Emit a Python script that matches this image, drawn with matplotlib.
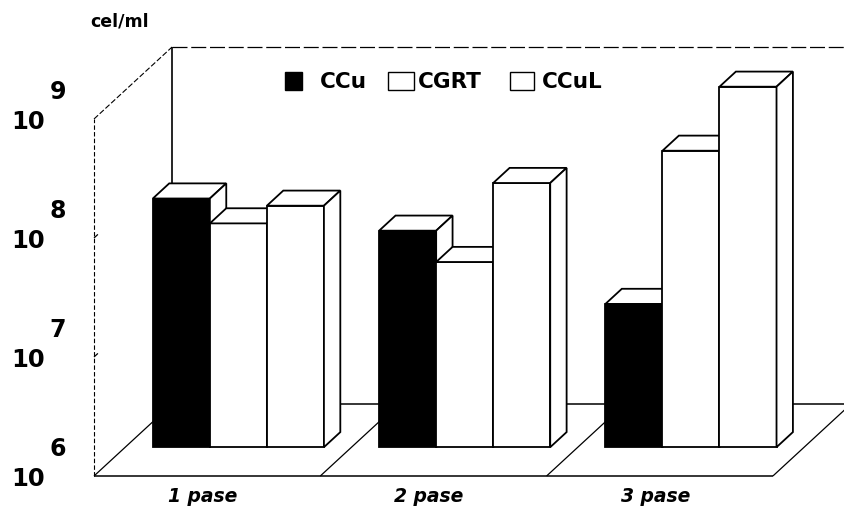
import matplotlib
matplotlib.use("Agg")
import matplotlib.pyplot as plt
from matplotlib.patches import Polygon, Rectangle
from matplotlib.transforms import blended_transform_factory, offset_copy

# ---- data -------------------------------------------------------------
categories = ["1 pase", "2 pase", "3 pase"]
series_names = ["CCu", "CGRT", "CCuL"]
ccu = [1.23e8, 6.6e7, 1.6e7]       # cel/ml
cgrt = [7.6e7, 3.6e7, 3.1e8]
ccul = [1.07e8, 1.66e8, 1.07e9]
decades = [6, 7, 8, 9]
unit_label = "cel/ml"

series = [ccu, cgrt, ccul]
fills = ["black", "white", "white"]

# ---- oblique (cabinet-style) projection --------------------------------
BASE = 10.0 ** decades[0]
TOP = 10.0 ** decades[-1]
DX, DY = 0.345, 0.605          # full floor depth: x units, decades
BAR_D0, BAR_D1 = 0.40, 0.61    # bars sit in this slice of the depth
BAR_W = 0.252


def proj(x, v, d):
    """Project point (x, value, depth) onto the page."""
    return (x + d * DX, v * 10 ** (d * DY))


FONT = "DejaVu Sans"
fig = plt.figure(figsize=(8.44, 5.13), dpi=100)
fig.patch.set_facecolor("white")
ax = fig.add_axes([0, 0, 1, 1])
ax.set_yscale("log")
ax.set_xlim(-94 / 226.3, 750 / 226.3)
ax.set_ylim(10 ** (6 - 37 / 119), 10 ** (6 + 476 / 119))
ax.axis("off")

n = len(categories)


def seg(p, q, lw=1.0, ls="-", color="black", z=1):
    ax.plot([p[0], q[0]], [p[1], q[1]], color=color, lw=lw, ls=ls,
            solid_capstyle="butt", zorder=z)


# floor
seg(proj(0, BASE, 0), proj(n, BASE, 0), lw=1.1)
for i in range(n + 1):
    seg(proj(i, BASE, 0), proj(i, BASE, 1), lw=0.9)
seg(proj(0, BASE, 1), proj(n + 1, BASE, 1), lw=1.1)

# left wall and back wall
seg(proj(0, BASE, 0), proj(0, TOP, 0), lw=0.8, ls=(0, (4, 2)))
seg(proj(0, TOP, 0), proj(0, TOP, 1), lw=0.8, ls=(0, (5, 2)))
seg(proj(0, BASE, 1), proj(0, TOP, 1), lw=1.2)
seg(proj(0, TOP, 1), proj(n + 1, TOP, 1), lw=0.9, ls=(0, (12, 3)))
for e in decades[1:-1]:
    seg(proj(0, 10.0 ** e, 0), proj(0, 10.0 ** e, 0.05), lw=0.9)

# bars: front faces through ax.bar, top and side faces as polygons
z = 2.0
for i in range(n):
    for k, (vals, fc) in enumerate(zip(series, fills)):
        v = vals[i]
        xc = i + 0.5 + (k - 1) * BAR_W
        x0, x1 = xc - BAR_W / 2, xc + BAR_W / 2
        sc = 10 ** (BAR_D0 * DY)
        rect = ax.bar(xc + BAR_D0 * DX, v * sc - BASE * sc, bottom=BASE * sc,
                      width=BAR_W, color=fc, edgecolor="black", lw=1.3)[0]
        rect.set_zorder(z)
        top = [proj(x0, v, BAR_D0), proj(x1, v, BAR_D0),
               proj(x1, v, BAR_D1), proj(x0, v, BAR_D1)]
        side = [proj(x1, BASE, BAR_D0), proj(x1, BASE, BAR_D1),
                proj(x1, v, BAR_D1), proj(x1, v, BAR_D0)]
        for poly in (top, side):
            ax.add_patch(Polygon(poly, closed=True, facecolor="white",
                                 edgecolor="black", lw=1.3, zorder=z,
                                 joinstyle="miter"))
        z += 0.01

# y labels: 10 with the exponent raised beside it
lab_tr = blended_transform_factory(fig.transFigure, ax.transData)
for e in decades:
    ax.text(28 / 844, 10.0 ** e, "10", transform=offset_copy(lab_tr, fig=fig, y=-3, units="dots"),
            ha="center", va="center", fontsize=17.5, fontweight="bold", family=FONT)
    ax.text(58 / 844, 10.0 ** e, str(e), transform=offset_copy(lab_tr, fig=fig, y=27, units="dots"),
            ha="center", va="center", fontsize=17, fontweight="bold", family=FONT)

fig.text(90 / 844, 1 - 22 / 513, unit_label, ha="left", va="center",
         fontsize=12.5, fontweight="bold", family=FONT)

# category labels under the floor
cat_tr = blended_transform_factory(ax.transData, fig.transFigure)
for i, c in enumerate(categories):
    ax.text(i + 0.48, 1 - 497 / 513, c, transform=cat_tr, ha="center", va="center",
            fontsize=13.5, fontweight="bold", style="italic", family=FONT)

# legend
legend_boxes = [(285, 17), (388, 26), (510, 24)]
legend_text_x = [320, 418, 542]
for (lx, lw_), tx, name, fc in zip(legend_boxes, legend_text_x, series_names, fills):
    fig.patches.append(Rectangle((lx / 844, 1 - 90 / 513), lw_ / 844, 18 / 513,
                                 transform=fig.transFigure, facecolor=fc,
                                 edgecolor="black", lw=1.0))
    fig.text(tx / 844, 1 - 82 / 513, name, ha="left", va="center",
             fontsize=15.5, fontweight="bold", family=FONT)

fig.savefig("out.png", dpi=100, facecolor="white")
